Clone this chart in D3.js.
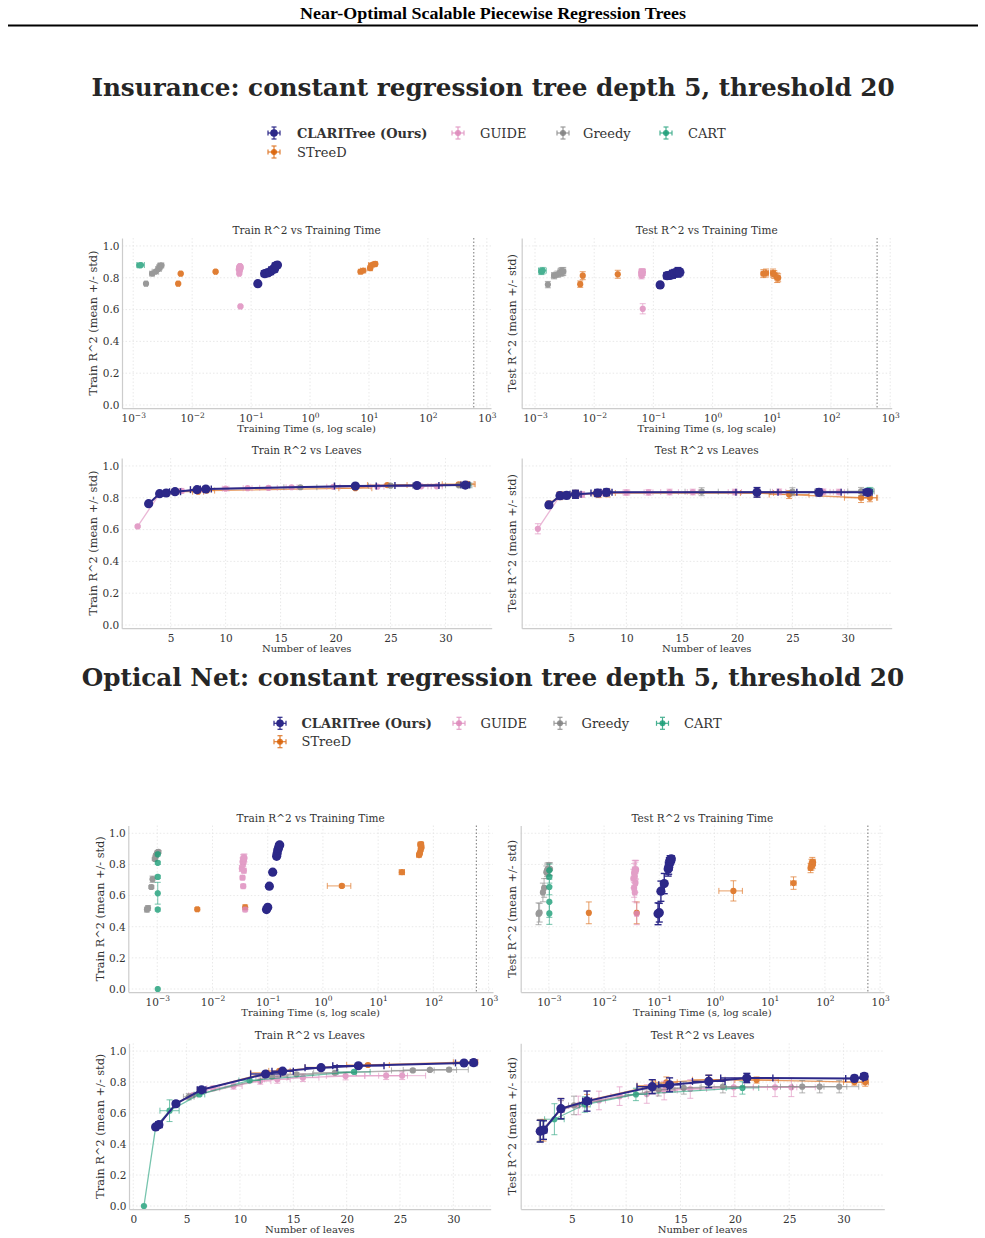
<!DOCTYPE html>
<html><head><meta charset="utf-8">
<script src="https://cdn.jsdelivr.net/npm/d3@7"></script>
<style>body{margin:0;background:#fff} svg{display:block}</style>
</head><body>
<svg id="c" width="985" height="1238"></svg>
<script>
// ---------------- DATA ----------------
// method order: CLARITree, STreeD, GUIDE, Greedy, CART
const methods = ["CLARITree (Ours)", "STreeD", "GUIDE", "Greedy", "CART"];
const methodColors = ["#2c2888", "#d95f02", "#dd88bb", "#808080", "#1b9e77"];
const logTicks = [1e-3, 1e-2, 1e-1, 1e0, 1e1, 1e2, 1e3];
const r2Ticks = [0, 0.2, 0.4, 0.6, 0.8, 1.0];
const leafTicksA = [5, 10, 15, 20, 25, 30];
const leafTicksB = [0, 5, 10, 15, 20, 25, 30];
const timeLimit = 600;

// Insurance
const insLeaves = [
  [3.0, 4.0, 4.6, 5.4, 7.4, 8.2, 21.8, 27.4, 31.8],
  [3.0, 4.0, 5.4, 7.5, 8.3, 21.8, 24.7, 31.2, 32.0],
  [2.0, 4.0, 6.0, 8.0, 10.0, 12.0, 13.9, 16.0, 19.8, 23.8, 27.8, 29.2],
  [3.0, 4.0, 5.4, 8.2, 16.8, 25.0, 31.2],
  [31.8, 32.0]
];
const insLeavesStd = [
  [0, 0.1, 0.2, 0.5, 0.6, 0.5, 1.9, 2.0, 0.4],
  [0, 0.1, 0.3, 0.5, 0.7, 1.5, 1.8, 1.5, 0.6],
  [0, 0.1, 0.2, 0.3, 0.3, 0.4, 0.8, 0.5, 0.6, 0.6, 0.6, 0.5],
  [0, 0.1, 0.3, 0.5, 1.5, 2.0, 1.2],
  [0.3, 0.3]
];
const insTime = [
  [0.13, 0.17, 0.19, 0.21, 0.23, 0.25, 0.26, 0.27, 0.28],
  [0.0058, 0.0064, 0.025, 7.2, 8.0, 10.5, 11.0, 12.3, 12.8],
  [0.066, 0.063, 0.064, 0.062, 0.065, 0.066, 0.064, 0.063, 0.065, 0.066, 0.064, 0.065],
  [0.00165, 0.0021, 0.0024, 0.0027, 0.0028, 0.0029, 0.003],
  [0.00128, 0.00135]
];
const insTimeStd = [
  [0.01, 0.02, 0.02, 0.03, 0.03, 0.03, 0.03, 0.03, 0.02],
  [0.0003, 0.0003, 0.001, 0.6, 0.8, 1.0, 1.2, 1.0, 1.0],
  [0.003, 0.003, 0.003, 0.003, 0.003, 0.003, 0.003, 0.003, 0.003, 0.003, 0.003, 0.003],
  [0.0001, 0.0002, 0.0003, 0.0003, 0.0003, 0.0003, 0.0003],
  [0.0001, 0.0002]
];
const insTrain = [
  [0.763, 0.826, 0.830, 0.838, 0.851, 0.855, 0.874, 0.877, 0.880],
  [0.763, 0.826, 0.838, 0.838, 0.845, 0.860, 0.880, 0.885, 0.887],
  [0.620, 0.826, 0.843, 0.852, 0.857, 0.860, 0.862, 0.866, 0.869, 0.870, 0.872, 0.872],
  [0.763, 0.826, 0.838, 0.855, 0.866, 0.876, 0.878],
  [0.878, 0.880]
];
const insTrainStd = [
  [0.004, 0.004, 0.004, 0.004, 0.004, 0.004, 0.004, 0.004, 0.004],
  [0.004, 0.004, 0.004, 0.004, 0.004, 0.004, 0.004, 0.004, 0.004],
  [0.005, 0.004, 0.004, 0.004, 0.004, 0.004, 0.004, 0.004, 0.004, 0.004, 0.004, 0.004],
  [0.004, 0.004, 0.004, 0.004, 0.004, 0.004, 0.004],
  [0.004, 0.004]
];
const insTest = [
  [0.755, 0.813, 0.815, 0.822, 0.830, 0.834, 0.834, 0.834, 0.834],
  [0.760, 0.813, 0.822, 0.826, 0.830, 0.830, 0.820, 0.800, 0.800],
  [0.605, 0.813, 0.820, 0.830, 0.833, 0.834, 0.836, 0.836, 0.836, 0.837, 0.837, 0.836],
  [0.757, 0.813, 0.822, 0.834, 0.838, 0.838, 0.840],
  [0.840, 0.845]
];
const insTestStd = [
  [0.015, 0.02, 0.02, 0.025, 0.022, 0.02, 0.03, 0.022, 0.02],
  [0.02, 0.025, 0.025, 0.025, 0.025, 0.025, 0.025, 0.03, 0.025],
  [0.032, 0.02, 0.018, 0.018, 0.018, 0.018, 0.018, 0.018, 0.018, 0.018, 0.018, 0.018],
  [0.02, 0.02, 0.02, 0.025, 0.025, 0.025, 0.025],
  [0.02, 0.02]
];

// Optical Net
const optLeaves = [
  [2.1, 2.4, 4.0, 6.4, 12.4, 14.0, 17.6, 21.1, 31.0, 31.9],
  [2.1, 2.4, 4.0, 6.4, 12.5, 13.7, 17.6, 22.0, 31.0, 32.0],
  [2.1, 4.0, 5.6, 7.5, 9.4, 11.9, 13.5, 15.9, 19.9, 23.7, 25.2],
  [2.0, 2.3, 4.0, 5.2, 13.0, 15.3, 18.9, 26.2, 27.8, 29.6],
  [1.0, 2.1, 3.4, 6.2, 10.9, 20.7]
];
const optLeavesStd = [
  [0.2, 0.3, 0.2, 0.4, 1.4, 1.0, 1.5, 2.4, 0.8, 0.3],
  [0.2, 0.3, 0.2, 0.4, 1.5, 1.0, 1.5, 2.0, 1.0, 0.3],
  [0.2, 0.3, 0.4, 0.6, 0.8, 1.0, 1.2, 1.5, 1.8, 2.0, 2.2],
  [0.1, 0.2, 0.3, 0.5, 1.5, 1.5, 2.0, 2.0, 2.5, 1.8],
  [0, 0.2, 0.9, 0.5, 1.0, 1.5]
];
const optTime = [
  [0.095, 0.10, 0.107, 0.123, 0.145, 0.148, 0.152, 0.157, 0.162, 0.165],
  [0.0053, 0.039, 2.2, 27, 55, 57, 59, 61, 58, 60],
  [0.039, 0.036, 0.035, 0.037, 0.034, 0.036, 0.035, 0.037, 0.036, 0.038, 0.037],
  [0.00065, 0.00068, 0.00078, 0.00082, 0.0009, 0.00093, 0.00095, 0.001, 0.00102, 0.00105],
  [0.00102, 0.00102, 0.00102, 0.00102, 0.00102, 0.00102]
];
const optTimeStd = [
  [0.005, 0.005, 0.005, 0.006, 0.006, 0.006, 0.006, 0.006, 0.006, 0.006],
  [0.0003, 0.002, 1.0, 3, 5, 5, 5, 5, 5, 5],
  [0.003, 0.003, 0.003, 0.003, 0.003, 0.003, 0.003, 0.003, 0.003, 0.003, 0.003],
  [0.00005, 0.00005, 0.00005, 0.00005, 0.00005, 0.00005, 0.00005, 0.00005, 0.00005, 0.00005],
  [0.00003, 0.00003, 0.00003, 0.00003, 0.00003, 0.00003]
];
const optTrain = [
  [0.510, 0.525, 0.660, 0.750, 0.852, 0.870, 0.893, 0.905, 0.923, 0.925],
  [0.512, 0.525, 0.662, 0.750, 0.860, 0.872, 0.895, 0.910, 0.928, 0.930],
  [0.510, 0.660, 0.715, 0.760, 0.774, 0.806, 0.817, 0.828, 0.839, 0.841, 0.841],
  [0.510, 0.520, 0.655, 0.705, 0.835, 0.850, 0.860, 0.875, 0.878, 0.880],
  [0.0, 0.510, 0.615, 0.720, 0.810, 0.865]
];
const optTrainStd = [
  [0.01, 0.01, 0.01, 0.01, 0.01, 0.006, 0.006, 0.006, 0.005, 0.005],
  [0.01, 0.015, 0.01, 0.015, 0.01, 0.01, 0.01, 0.01, 0.01, 0.01],
  [0.01, 0.01, 0.01, 0.015, 0.02, 0.02, 0.025, 0.025, 0.025, 0.025, 0.025],
  [0.015, 0.015, 0.01, 0.02, 0.01, 0.01, 0.01, 0.01, 0.01, 0.01],
  [0.0, 0.01, 0.07, 0.01, 0.01, 0.01]
];
const optTest = [
  [0.483, 0.490, 0.628, 0.677, 0.770, 0.782, 0.804, 0.826, 0.823, 0.836],
  [0.489, 0.489, 0.630, 0.680, 0.777, 0.798, 0.815, 0.813, 0.800, 0.798],
  [0.483, 0.620, 0.649, 0.681, 0.709, 0.723, 0.745, 0.755, 0.766, 0.766, 0.766],
  [0.483, 0.490, 0.620, 0.649, 0.750, 0.762, 0.770, 0.770, 0.770, 0.770],
  [null, 0.485, 0.560, 0.655, 0.720, 0.762]
];
const optTestStd = [
  [0.07, 0.06, 0.065, 0.065, 0.045, 0.045, 0.04, 0.03, 0.02, 0.02],
  [0.07, 0.07, 0.065, 0.04, 0.03, 0.035, 0.03, 0.02, 0.02, 0.025],
  [0.07, 0.06, 0.06, 0.06, 0.06, 0.06, 0.06, 0.06, 0.06, 0.06, 0.06],
  [0.07, 0.06, 0.06, 0.06, 0.04, 0.04, 0.04, 0.04, 0.04, 0.04],
  [0, 0.07, 0.1, 0.05, 0.04, 0.04]
];

// ---------------- DRAWING ----------------
const svg = d3.select("#c");
const FONT = "'DejaVu Serif', serif";
const drawOrder = [1, 2, 3, 4, 0];

function buildPoints(ds, m) {
  const pts = [];
  ds.leaves[m].forEach((l, i) => {
    pts.push({leaves: l, leavesStd: ds.leavesStd[m][i], time: ds.time[m][i], timeStd: ds.timeStd[m][i],
      train: ds.train[m][i], trainStd: ds.trainStd[m][i], test: ds.test[m][i], testStd: ds.testStd[m][i]});
  });
  return pts;
}

function supFmt(sel) {
  sel.each(function(d) {
    const t = d3.select(this);
    const e = Math.round(Math.log10(d));
    t.text(null);
    t.append("tspan").text("10");
    t.append("tspan").attr("dy", "-0.55em").attr("font-size", "7.5px").text(String(e).replace("-", "\u2212"));
  });
}

function drawPanel(p, ds) {
  const g = svg.append("g");
  const x = p.log ? d3.scaleLog().domain(p.xDomain).range([p.x0, p.x1])
                  : d3.scaleLinear().domain(p.xDomain).range([p.x0, p.x1]);
  const y = d3.scaleLinear().domain([-0.02, 1.05]).range([p.yBot, p.yTop]);

  // grid
  const grid = g.append("g");
  p.xTicks.forEach(t => grid.append("line").attr("x1", x(t)).attr("x2", x(t)).attr("y1", p.yTop).attr("y2", p.yBot));
  r2Ticks.forEach(t => grid.append("line").attr("x1", p.x0).attr("x2", p.x1).attr("y1", y(t)).attr("y2", y(t)));
  grid.selectAll("line").attr("stroke", "#e3e3e3").attr("stroke-width", 0.8).attr("stroke-dasharray", "1.5,2");

  // axes
  const xa = g.append("g").attr("transform", `translate(0,${p.yBot})`)
    .call(d3.axisBottom(x).tickValues(p.xTicks).tickSize(0).tickPadding(6).tickFormat(p.log ? d => d : d3.format("d")));
  xa.select(".domain").attr("stroke", "#cccccc").attr("stroke-width", 1.2);
  xa.selectAll("text").attr("font-family", FONT).attr("font-size", "10.5px").attr("fill", "#333");
  if (p.log) xa.selectAll(".tick text").call(supFmt);

  const ya = g.append("g").attr("transform", `translate(${p.x0},0)`)
    .call(d3.axisLeft(y).tickValues(r2Ticks).tickSize(0).tickPadding(2.5).tickFormat(p.showY ? d3.format(".1f") : () => ""));
  ya.select(".domain").attr("stroke", "#cccccc").attr("stroke-width", 1.2);
  ya.selectAll("text").attr("font-family", FONT).attr("font-size", "10.5px").attr("fill", "#333");

  // time limit line
  if (p.log) {
    g.append("line").attr("x1", x(timeLimit)).attr("x2", x(timeLimit)).attr("y1", p.yTop).attr("y2", p.yBot)
      .attr("stroke", "#777").attr("stroke-width", 1).attr("stroke-dasharray", "1.5,2");
  }

  // titles
  g.append("text").attr("x", (p.x0 + p.x1) / 2).attr("y", p.yTop - 4).attr("text-anchor", "middle")
    .attr("font-family", FONT).attr("font-size", "10.5px").attr("fill", "#333").text(p.title);
  g.append("text").attr("x", (p.x0 + p.x1) / 2).attr("y", p.yBot + 24).attr("text-anchor", "middle")
    .attr("font-family", FONT).attr("font-size", "10px").attr("fill", "#333").text(p.xlabel);
  g.append("text").attr("transform", `translate(${p.ylx},${(p.yTop + p.yBot) / 2}) rotate(-90)`)
    .attr("text-anchor", "middle").attr("dy", "0.35em")
    .attr("font-family", FONT).attr("font-size", "11.3px").attr("fill", "#333").text(p.ylabel);

  const xf = p.log ? "time" : "leaves";
  const xsf = p.log ? "timeStd" : "leavesStd";
  const yf = p.yField, ysf = p.yField + "Std";
  const [dmin, dmax] = p.xDomain;

  drawOrder.forEach(m => {
    const main = m === 0;
    const col = methodColors[m];
    const pts = buildPoints(ds, m).filter(d => d[yf] !== null && d[yf] !== undefined);
    const mg = g.append("g").attr("opacity", main ? 1 : 0.8);
    if (!p.log) {
      const sorted = pts.slice().sort((a, b) => a.leaves - b.leaves);
      mg.append("path").datum(sorted)
        .attr("d", d3.line().x(d => x(d.leaves)).y(d => y(d[yf])))
        .attr("fill", "none").attr("stroke", col).attr("stroke-width", main ? 2 : 1.3)
        .attr("stroke-opacity", main ? 1 : 0.75);
    }
    const cap = main ? 3.5 : 3;
    const ew = main ? 1.4 : 1;
    pts.forEach(d => {
      const cx = x(d[xf]), cy = y(d[yf]);
      const ys = d[ysf] || 0, xs = d[xsf] || 0;
      const eg = mg.append("g").attr("stroke", col).attr("stroke-width", ew).attr("stroke-opacity", main ? 1 : 0.75);
      if (ys > 0) {
        const y1 = y(d[yf] - ys), y2 = y(d[yf] + ys);
        eg.append("line").attr("x1", cx).attr("x2", cx).attr("y1", y1).attr("y2", y2);
        eg.append("line").attr("x1", cx - cap).attr("x2", cx + cap).attr("y1", y1).attr("y2", y1);
        eg.append("line").attr("x1", cx - cap).attr("x2", cx + cap).attr("y1", y2).attr("y2", y2);
      }
      if (xs > 0) {
        const xl = x(Math.max(d[xf] - xs, dmin)), xr = x(Math.min(d[xf] + xs, dmax));
        eg.append("line").attr("x1", xl).attr("x2", xr).attr("y1", cy).attr("y2", cy);
        eg.append("line").attr("x1", xl).attr("x2", xl).attr("y1", cy - cap).attr("y2", cy + cap);
        eg.append("line").attr("x1", xr).attr("x2", xr).attr("y1", cy - cap).attr("y2", cy + cap);
      }
      mg.append("circle").attr("cx", cx).attr("cy", cy).attr("r", main ? 4.6 : 3.1).attr("fill", col);
    });
  });
}

function drawLegend(items, ry1, ry2) {
  const g = svg.append("g");
  const order = [0, 2, 3, 4, 1];
  order.forEach((m, k) => {
    const it = items[k];
    const cy = m === 1 ? ry2 : ry1;
    const col = methodColors[m];
    const eg = g.append("g").attr("stroke", col).attr("stroke-width", 1.2).attr("opacity", m === 0 ? 1 : 0.8);
    eg.append("line").attr("x1", it[0] - 6).attr("x2", it[0] + 6).attr("y1", cy).attr("y2", cy);
    eg.append("line").attr("x1", it[0]).attr("x2", it[0]).attr("y1", cy - 6).attr("y2", cy + 6);
    eg.append("line").attr("x1", it[0] - 2.5).attr("x2", it[0] + 2.5).attr("y1", cy - 6).attr("y2", cy - 6);
    eg.append("line").attr("x1", it[0] - 2.5).attr("x2", it[0] + 2.5).attr("y1", cy + 6).attr("y2", cy + 6);
    eg.append("line").attr("x1", it[0] - 6).attr("x2", it[0] - 6).attr("y1", cy - 2.5).attr("y2", cy + 2.5);
    eg.append("line").attr("x1", it[0] + 6).attr("x2", it[0] + 6).attr("y1", cy - 2.5).attr("y2", cy + 2.5);
    g.append("circle").attr("cx", it[0]).attr("cy", cy).attr("r", m === 0 ? 3.8 : 3).attr("fill", col).attr("opacity", m === 0 ? 1 : 0.85);
    g.append("text").attr("x", it[1]).attr("y", cy).attr("dy", "0.35em")
      .attr("font-family", FONT).attr("font-size", "13px").attr("fill", "#333")
      .attr("font-weight", m === 0 ? "bold" : "normal").text(methods[m]);
  });
}

// header
svg.append("text").attr("x", 493).attr("y", 19).attr("text-anchor", "middle")
  .attr("font-family", "'Liberation Serif', serif").attr("font-weight", "bold").attr("font-size", "17px")
  .attr("textLength", 386).attr("lengthAdjust", "spacingAndGlyphs")
  .text("Near-Optimal Scalable Piecewise Regression Trees");
svg.append("line").attr("x1", 8).attr("x2", 978).attr("y1", 25.5).attr("y2", 25.5).attr("stroke", "#000").attr("stroke-width", 2);

const insDS = {leaves: insLeaves, leavesStd: insLeavesStd, time: insTime, timeStd: insTimeStd,
  train: insTrain, trainStd: insTrainStd, test: insTest, testStd: insTestStd};
const optDS = {leaves: optLeaves, leavesStd: optLeavesStd, time: optTime, timeStd: optTimeStd,
  train: optTrain, trainStd: optTrainStd, test: optTest, testStd: optTestStd};

function sectionTitle(txt, cy) {
  svg.append("text").attr("x", 493).attr("y", cy).attr("dy", "0.35em").attr("text-anchor", "middle")
    .attr("font-family", FONT).attr("font-weight", "bold").attr("font-size", "24.7px").attr("fill", "#262626").text(txt);
}

// Insurance
sectionTitle("Insurance: constant regression tree depth 5, threshold 20", 87);
drawLegend([[274, 297], [458, 480], [563, 583], [666, 688], [274, 297]], 133, 152);
const insTopY = {yTop: 238, yBot: 408.2}, insBotY = {yTop: 458, yBot: 628.2};
drawPanel(Object.assign({x0: 122, x1: 491, log: true, xDomain: [Math.pow(10, -3.19), Math.pow(10, 3.07)], xTicks: logTicks,
  title: "Train R^2 vs Training Time", xlabel: "Training Time (s, log scale)", ylabel: "Train R^2 (mean +/- std)",
  ylx: 93, showY: true, yField: "train"}, insTopY), insDS);
drawPanel(Object.assign({x0: 521.7, x1: 891.7, log: true, xDomain: [Math.pow(10, -3.225), Math.pow(10, 3.025)], xTicks: logTicks,
  title: "Test R^2 vs Training Time", xlabel: "Training Time (s, log scale)", ylabel: "Test R^2 (mean +/- std)",
  ylx: 511.7, showY: false, yField: "test"}, insTopY), insDS);
drawPanel(Object.assign({x0: 121.7, x1: 491.7, log: false, xDomain: [0.55, 34.2], xTicks: leafTicksA,
  title: "Train R^2 vs Leaves", xlabel: "Number of leaves", ylabel: "Train R^2 (mean +/- std)",
  ylx: 93, showY: true, yField: "train"}, insBotY), insDS);
drawPanel(Object.assign({x0: 521.7, x1: 891.7, log: false, xDomain: [0.54, 33.97], xTicks: leafTicksA,
  title: "Test R^2 vs Leaves", xlabel: "Number of leaves", ylabel: "Test R^2 (mean +/- std)",
  ylx: 511.7, showY: false, yField: "test"}, insBotY), insDS);

// Optical Net
sectionTitle("Optical Net: constant regression tree depth 5, threshold 20", 677);
drawLegend([[280, 301.5], [459, 480.5], [560, 581.5], [662.5, 684], [280, 301.5]], 723.3, 741.7);
const optTopY = {yTop: 825.5, yBot: 992.1}, optBotY = {yTop: 1043.3, yBot: 1209.1};
drawPanel(Object.assign({x0: 128.3, x1: 493, log: true, xDomain: [Math.pow(10, -3.525), Math.pow(10, 3.08)], xTicks: logTicks,
  title: "Train R^2 vs Training Time", xlabel: "Training Time (s, log scale)", ylabel: "Train R^2 (mean +/- std)",
  ylx: 100, showY: true, yField: "train"}, optTopY), optDS);
drawPanel(Object.assign({x0: 520.7, x1: 884, log: true, xDomain: [Math.pow(10, -3.51), Math.pow(10, 3.07)], xTicks: logTicks,
  title: "Test R^2 vs Training Time", xlabel: "Training Time (s, log scale)", ylabel: "Test R^2 (mean +/- std)",
  ylx: 511.7, showY: false, yField: "test"}, optTopY), optDS);
drawPanel(Object.assign({x0: 129, x1: 490.7, log: false, xDomain: [-0.4, 33.5], xTicks: leafTicksB,
  title: "Train R^2 vs Leaves", xlabel: "Number of leaves", ylabel: "Train R^2 (mean +/- std)",
  ylx: 100, showY: true, yField: "train"}, optBotY), optDS);
drawPanel(Object.assign({x0: 520.7, x1: 884.3, log: false, xDomain: [0.3, 33.75], xTicks: leafTicksA,
  title: "Test R^2 vs Leaves", xlabel: "Number of leaves", ylabel: "Test R^2 (mean +/- std)",
  ylx: 511.7, showY: false, yField: "test"}, optBotY), optDS);
</script>
</body></html>
